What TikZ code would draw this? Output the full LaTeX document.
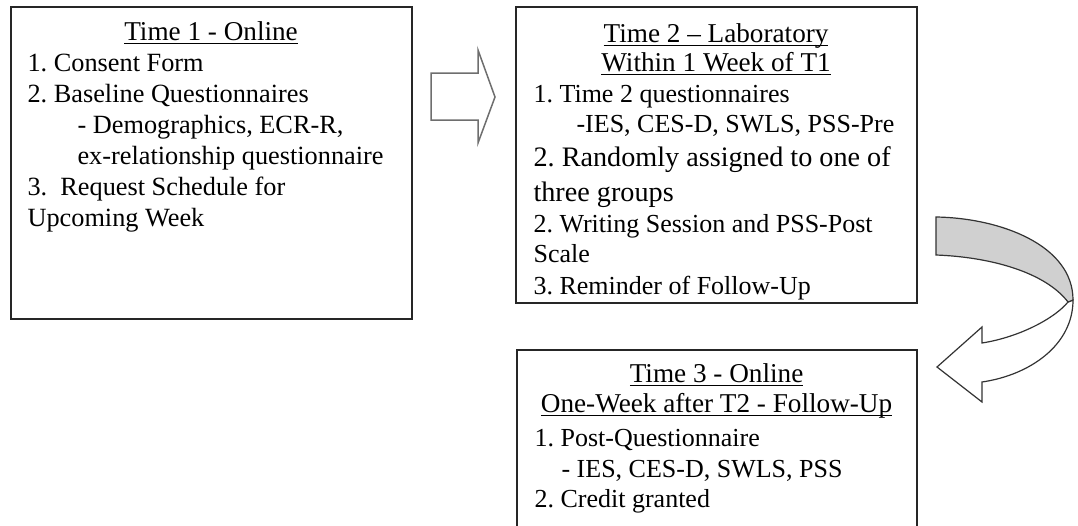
\documentclass[tikz,border=0pt]{standalone}
\definecolor{ribbongray}{RGB}{208, 208, 208}
\definecolor{edgegray}{RGB}{110, 110, 110}
\usepackage{fontspec}
\setmainfont{Liberation Serif}
\usepackage{tikz}
\usetikzlibrary{positioning}
\frenchspacing
\newcommand{\ulhead}[1]{\leavevmode\setbox0=\hbox{\fontsize{27.2}{31}\selectfont #1}\rlap{\rule[-4pt]{\wd0}{1.6pt}}\box0}

\begin{document}
\begin{tikzpicture}[x=1pt, y=-1pt,
  stagebox/.style={draw=black!85, line width=1.3pt, minimum width=401pt, inner sep=0pt},
  stagetext/.style={inner sep=0pt, align=left, font=\fontsize{26.3}{31}\selectfont},
  blockarrow/.style={draw=edgegray, line width=1.5pt, fill=white, line join=miter},
  bendarrow/.style={draw=black!80, line width=1.2pt, line join=miter}
]
  \clip (0,0) rectangle (1078,525);
  \node[stagebox, minimum height=312pt] (t1box) at (211.5, 163) {};
  \node[stagebox, minimum height=296pt] (t2box) at (716.5, 155) {};
  \node[stagebox, minimum height=200pt, minimum width=400pt] (t3box) at (717, 450) {};

  \node[stagetext, below right=15pt and 17pt of t1box.north west] (t1text) {
    \makebox[367pt]{\ulhead{Time 1 - Online}}\\
    1. Consent Form\\
    2. Baseline Questionnaires\\
    \hspace*{50pt}- Demographics, ECR-R,\\
    \hspace*{50pt}ex-relationship questionnaire\\
    3.\ \ Request Schedule for\\
    Upcoming Week
  };
  \node[stagetext, font=\fontsize{26}{31}\selectfont, below right=17pt and 18pt of t2box.north west] (t2text) {
    \makebox[365pt]{\ulhead{Time 2 – Laboratory}}\\[-2pt]
    \makebox[365pt]{\ulhead{Within 1 Week of T1}}\\
    1. Time 2 questionnaires\\[-1pt]
    \hspace*{43pt}-IES, CES-D, SWLS, PSS-Pre\\[3pt]
    {\fontsize{28.2}{31}\selectfont 2. Randomly assigned to one of}\\[4pt]
    {\fontsize{28.2}{31}\selectfont three groups}\\
    2. Writing Session and PSS-Post\\[-1pt]
    Scale\\[1pt]
    3. Reminder of Follow-Up
  };
  \node[stagetext, font=\fontsize{26}{31}\selectfont, below right=14pt and 18pt of t3box.north west] (t3text) {
    \makebox[364pt]{\ulhead{Time 3 - Online}}\\[-1pt]
    \makebox[364pt]{\ulhead{One-Week after T2 - Follow-Up}}\\[3pt]
    1. Post-Questionnaire\\
    \hspace*{27pt}- IES, CES-D, SWLS, PSS\\[-1pt]
    2. Credit granted
  };

  \draw[blockarrow] (431,73) -- (478,73) -- (478,50) -- (495,97) -- (478,143) -- (478,120) -- (431,120) -- cycle;
  \filldraw[bendarrow, fill=white] (1068,302) .. controls (1055,318) and (1020,337) .. (982,343)
    -- (982,327) -- (937,367) -- (982,402) -- (982,382)
    .. controls (1030,375) and (1073,345) .. (1073,300) -- cycle;
  \filldraw[bendarrow, fill=ribbongray] (936,217) .. controls (1000,218) and (1073,245) .. (1073,300)
    -- (1068,302) .. controls (1045,272) and (990,257) .. (936,255) -- cycle;
\end{tikzpicture}
\end{document}
